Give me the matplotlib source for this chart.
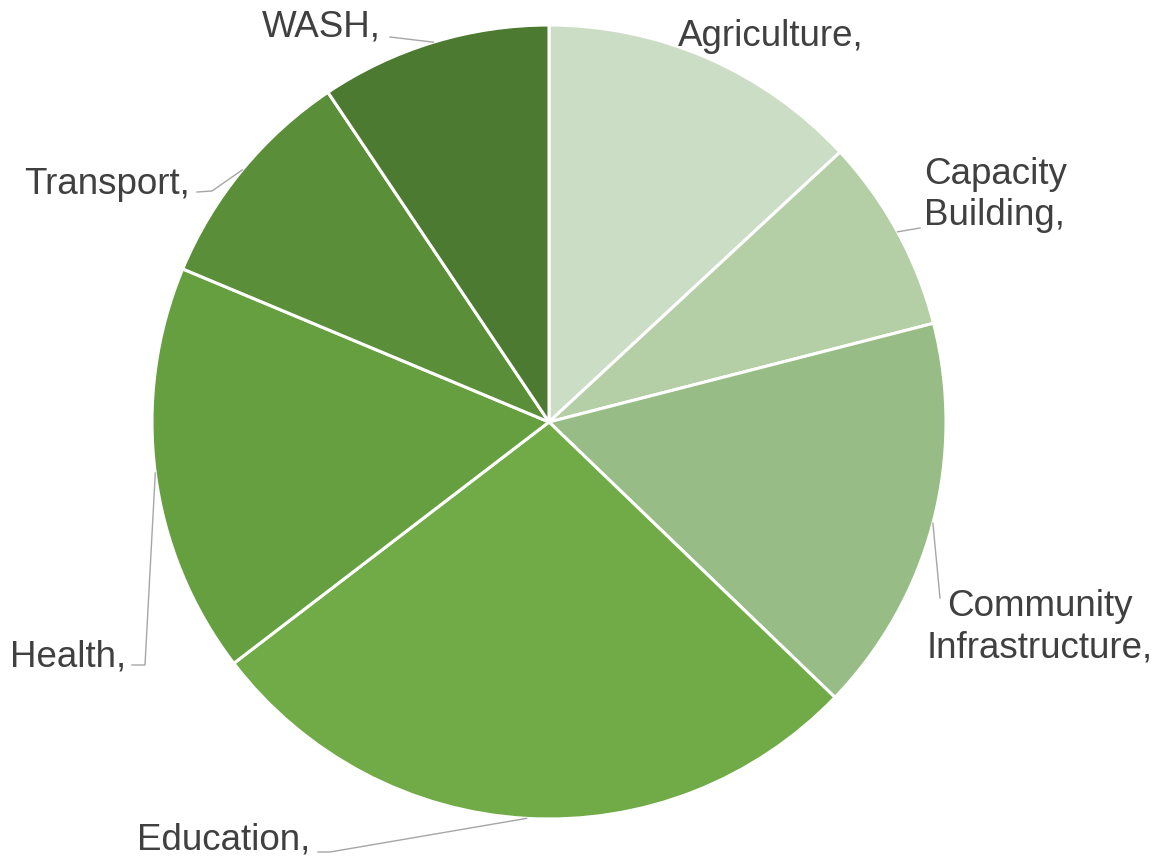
import numpy as np
import matplotlib
matplotlib.use("Agg")
import matplotlib.pyplot as plt

plt.rcParams["font.family"] = ["Liberation Sans", "DejaVu Sans"]

# sector shares (%), clockwise from 12 o'clock
sectors = ["Agriculture", "Capacity\nBuilding", "Community\nInfrastructure",
           "Education", "Health", "Transport", "WASH"]
shares = [13.1, 7.9, 16.2, 27.4, 16.7, 9.3, 9.4]
colors = ["#CCDDC5", "#B4CEA6", "#97BC85", "#70AB47", "#659F3F", "#5A8E38", "#4C7A30"]

W, H = 1156, 859
CX, CY, R = 549, H - 422, 397

# label placement (pixel coords, y up) and leader elbow points
label_pos = {
    "Agriculture": (678, H - 37, "left"),
    "Capacity\nBuilding": (924, H - 195, "left"),
    "Community\nInfrastructure": (1040, H - 627, "center"),
    "Education": (137, H - 840, "left"),
    "Health": (10, H - 657, "left"),
    "Transport": (24, H - 185, "left"),
    "WASH": (262, H - 27, "left"),
}
leaders = {
    "Capacity\nBuilding": [(920, H - 228)],
    "Community\nInfrastructure": [(940, H - 598)],
    "Education": [(330, H - 852), (318, H - 852)],
    "Health": [(145, H - 665), (132, H - 665)],
    "Transport": [(212, H - 191), (197, H - 192)],
    "WASH": [(390, H - 37)],
}

fig = plt.figure(figsize=(W / 100, H / 100), dpi=100)
ax = fig.add_axes([0, 0, 1, 1])

wedges, _ = ax.pie(shares, colors=colors, startangle=90, counterclock=False,
                   center=(CX, CY), radius=R, frame=True,
                   wedgeprops=dict(edgecolor="white", linewidth=2.2))
ax.set_xlim(0, W)
ax.set_ylim(0, H)
ax.set_aspect("equal")
ax.axis("off")

for w, name in zip(wedges, sectors):
    mid = np.deg2rad((w.theta1 + w.theta2) / 2)
    ax0 = CX + R * np.cos(mid)
    ay0 = CY + R * np.sin(mid)
    if name in leaders:
        pts = [(ax0, ay0)] + leaders[name]
        ax.plot([p[0] for p in pts], [p[1] for p in pts], color="#A6A6A6", lw=1.0)
    x, y, ha = label_pos[name]
    ax.text(x, y, name + ",", ha=ha, va="center", fontsize=26.5, color="#404040",
            multialignment="center" if ha == "center" else "left", linespacing=1.25)

fig.savefig("out.png", dpi=100)
